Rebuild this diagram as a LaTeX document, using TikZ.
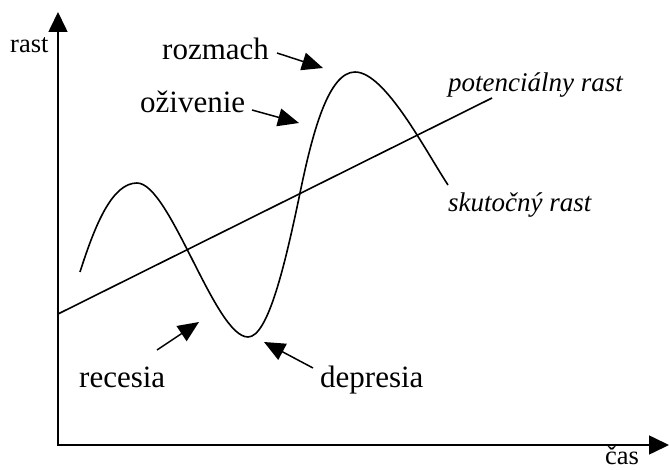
\documentclass[tikz,border=0pt]{standalone}
\usepackage{fontspec}
\setmainfont{Liberation Serif}
\usetikzlibrary{arrows.meta}
\begin{document}
\begin{tikzpicture}[x=1pt,y=-1pt,
  axis/.style={line width=1.6pt,-{Triangle[length=20pt,width=19pt]}},
  pointer/.style={line width=1.5pt,-{Triangle[length=21pt,width=18pt]}},
  biglabel/.style={anchor=base west,inner sep=0pt,font=\fontsize{31}{31}\selectfont},
  smalllabel/.style={anchor=base west,inner sep=0pt,font=\fontsize{26.5}{26.5}\selectfont},
  itlabel/.style={anchor=base west,inner sep=0pt,font=\fontsize{27}{27}\selectfont\itshape},
  curve/.style={line width=1.6pt}]
\useasboundingbox (0,0) rectangle (669,470);
% axes
\coordinate (origin) at (58,445);
\coordinate (ytop) at (58,12);
\coordinate (xend) at (669,445);
\draw[axis] (origin) -- (ytop);
\draw[axis] (57,445) -- (xend);
\node[smalllabel] (rast) at (10,53) {rast};
\node[smalllabel] (cas) at (605,464) {čas};
% potential growth line
\coordinate (pstart) at (58,314);
\coordinate (pend) at (492,98);
\draw[curve] (pstart) -- (pend);
% actual growth curve
\coordinate (c0) at (80,272);
\coordinate (c1) at (137,183);
\coordinate (c2) at (248,337);
\coordinate (c3) at (300,193);
\coordinate (c4) at (355,72);
\coordinate (c5) at (448,185);
\draw[curve] (c0) .. controls (95,225) and (112,183) .. (c1)
  .. controls (170,183) and (215,337) .. (c2)
  .. controls (268,337) and (285,265) .. (c3)
  .. controls (312,135) and (328,72) .. (c4)
  .. controls (385,72) and (425,150) .. (c5);
% labels
\node[itlabel] (pot) at (448,92) {potenciálny rast};
\node[itlabel] (skut) at (448,212) {skutočný rast};
\node[biglabel] (rozmach) at (162,60) {rozmach};
\node[biglabel] (ozivenie) at (140,113) {oživenie};
\node[biglabel] (recesia) at (79,387) {recesia};
\node[biglabel] (depresia) at (320,387) {depresia};
% pointers
\coordinate (rozA) at (277,53);
\coordinate (rozB) at (323,68);
\coordinate (ozA) at (252,110);
\coordinate (ozB) at (299,123);
\coordinate (recA) at (157,350);
\coordinate (recB) at (199,322);
\coordinate (depA) at (313,368);
\coordinate (depB) at (264,342);
\draw[pointer] (rozA) -- (rozB);
\draw[pointer] (ozA) -- (ozB);
\draw[pointer] (recA) -- (recB);
\draw[pointer] (depA) -- (depB);
\end{tikzpicture}
\end{document}
